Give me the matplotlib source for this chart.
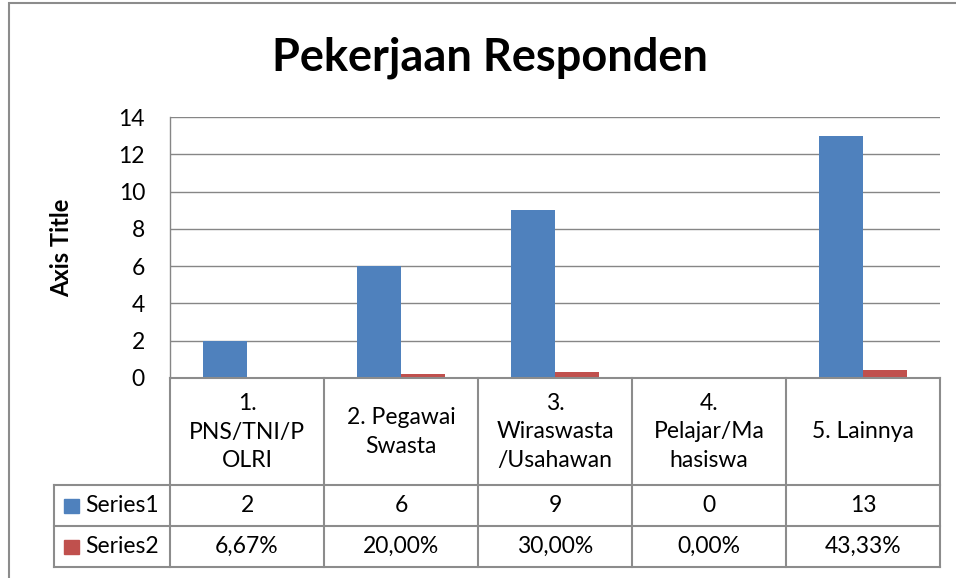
import matplotlib
matplotlib.use("Agg")
import matplotlib.pyplot as plt
from matplotlib.lines import Line2D
from matplotlib.patches import Rectangle
import numpy as np

plt.rcParams['font.family'] = ['Lato', 'DejaVu Sans']

categories = ["1.\nPNS/TNI/P\nOLRI", "2. Pegawai\nSwasta", "3.\nWiraswasta\n/Usahawan",
              "4.\nPelajar/Ma\nhasiswa", "5. Lainnya"]
series_names = ["Series1", "Series2"]
series1 = [2, 6, 9, 0, 13]
series2 = [0.0667, 0.2000, 0.3000, 0.0000, 0.4333]
title = "Pekerjaan Responden"
y_title = "Axis Title"
y_ticks = [0, 2, 4, 6, 8, 10, 12, 14]

blue = "#4F81BD"
red = "#C0504D"
grid_c = "#868686"
line_c = "#8C8C8C"

W, H = 956, 578
fig = plt.figure(figsize=(W / 100, H / 100), dpi=100)

def fx(px):
    return px / W

def fy(py):
    return 1 - py / H

# Outer chart border
fig.add_artist(Rectangle((fx(9), fy(H + 20)), fx(W + 20), fy(3) - fy(H + 20),
                         transform=fig.transFigure, fill=False, ec="#8C8C8C", lw=1.5))

# Plot area
L, R, T, B = 170, 940, 117, 378
ax = fig.add_axes([fx(L), fy(B), fx(R - L), fy(T) - fy(B)])
n = len(categories)
x = np.arange(n)
bw = 0.286
ax.bar(x - bw / 2, series1, width=bw, color=blue, zorder=3)
ax.bar(x + bw / 2, series2, width=bw, color=red, zorder=3)
ax.set_xlim(-0.5, n - 0.5)
ax.set_ylim(0, 14)
ax.set_yticks(y_ticks)
ax.set_yticklabels([str(v) for v in y_ticks], fontsize=16.5)
ax.tick_params(axis='y', length=0, pad=18)
ax.set_xticks([])
ax.yaxis.grid(True, color=grid_c, lw=1, zorder=0)
for s in ['top', 'right', 'bottom']:
    ax.spines[s].set_visible(False)
ax.spines['left'].set_color(grid_c)
ax.spines['left'].set_linewidth(1)
ax.set_ylabel(y_title, fontsize=17, fontweight='bold')
ax.yaxis.set_label_coords(-(170 - 73) / (R - L), 0.5)

fig.text(fx(490), fy(58), title, fontsize=32.5, fontweight='bold',
         ha='center', va='center')

# Data table
rows_y = [378, 485, 526, 567]
TL = 54
col_w = (R - L) / n
lkw = dict(transform=fig.transFigure, color=line_c, lw=1.5)
fig.add_artist(Line2D([fx(L), fx(R)], [fy(378), fy(378)], **lkw))
for yy in rows_y[1:]:
    fig.add_artist(Line2D([fx(TL), fx(R)], [fy(yy), fy(yy)], **lkw))
for i in range(n + 1):
    xx = L + i * col_w
    fig.add_artist(Line2D([fx(xx), fx(xx)], [fy(378), fy(567)], **lkw))
fig.add_artist(Line2D([fx(TL), fx(TL)], [fy(485), fy(567)], **lkw))

fs = 16.5
for i, c in enumerate(categories):
    cx = L + (i + 0.5) * col_w
    fig.text(fx(cx), fy(432), c, fontsize=fs, ha='center', va='center',
             linespacing=1.42)
    fig.text(fx(cx), fy(505.5), f"{series1[i]}", fontsize=fs, ha='center', va='center')
    pct = f"{series2[i] * 100:.2f}%".replace('.', ',')
    fig.text(fx(cx), fy(546.5), pct, fontsize=fs, ha='center', va='center')

for name, col, yc in zip(series_names, [blue, red], [505.5, 546.5]):
    fig.add_artist(Rectangle((fx(64), fy(yc + 7)), fx(15), fy(yc - 7) - fy(yc + 7),
                             transform=fig.transFigure, color=col))
    fig.text(fx(85), fy(yc), name, fontsize=fs, ha='left', va='center')

fig.savefig("out.png", dpi=100)
